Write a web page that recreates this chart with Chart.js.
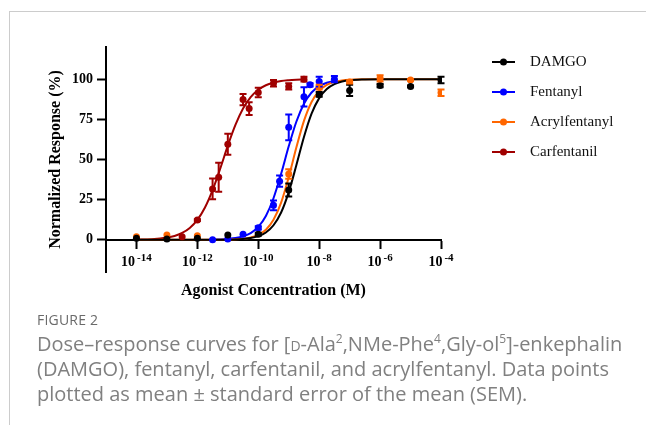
<!DOCTYPE html>
<html>
<head>
<meta charset="utf-8">
<script src="https://cdn.jsdelivr.net/npm/chart.js@4"></script>
<style>
  body { margin: 0; background: #fff; width: 646px; height: 425px; overflow: hidden; position: relative; }
  #card { position: absolute; left: 9px; top: 11px; width: 640px; height: 420px; border-top: 1px solid #ccc; border-left: 1px solid #ccc; }
  #chart { position: absolute; left: 0; top: 0; }
  #caption { position: absolute; left: 37px; top: 311px; font-family: "Open Sans", sans-serif; color: #808080; white-space: nowrap; }
  #caption .fig { font-size: 14px; line-height: 18px; color: #6a6a6a; letter-spacing: 0.2px; }
  #caption .txt { font-size: 20px; line-height: 25px; margin-top: 2px; }
  #caption sup { font-size: 12px; line-height: 0; }
  #caption .sc { font-variant: small-caps; }
</style>
</head>
<body>
<div id="card"></div>
<canvas id="chart" width="646" height="332"></canvas>
<div id="caption">
  <div class="fig">FIGURE 2</div>
  <div class="txt">Dose–response curves for [<span class="sc">d</span>-Ala<sup>2</sup>,NMe-Phe<sup>4</sup>,Gly-ol<sup>5</sup>]-enkephalin<br>(DAMGO), fentanyl, carfentanil, and acrylfentanyl. Data points<br>plotted as mean ± standard error of the mean (SEM).</div>
</div>
<script>
// --- Data (log10 molar concentration vs normalized response %) ---
const seriesNames = ['DAMGO', 'Fentanyl', 'Acrylfentanyl', 'Carfentanil'];
const seriesColors = ['#000000', '#0000ff', '#ff6600', '#a00000'];

const damgoX = [-14, -13, -12, -11, -10, -9, -8, -7, -6, -5, -4];
const damgoY = [1, 0.5, 1, 3, 3.5, 31, 90.5, 93, 96, 95.5, 99.5];
const damgoErr = [0, 0, 0, 0, 1, 4, 1.5, 3.5, 1, 0.5, 2];

const fentanylX = [-11.5, -11, -10.5, -10, -9.5, -9.3, -9, -8.5, -8.3, -8, -7.5];
const fentanylY = [0, 0.5, 3.5, 7.5, 21.5, 36.5, 70, 89, 96.5, 98.5, 100];
const fentanylErr = [0, 0, 0, 1, 3, 3.5, 8, 6, 1, 3, 2];

const acrylX = [-14, -13, -12, -9, -8, -7, -6, -5, -4];
const acrylY = [2, 3, 2.5, 41, 95, 98.3, 100.5, 99.5, 91.5];
const acrylErr = [0, 0, 0, 3, 1.5, 1, 2, 0.5, 2];

const carfX = [-12.5, -12, -11.5, -11.3, -11, -10.5, -10.3, -10, -9.5, -9, -8.5];
const carfY = [2, 12.3, 31.7, 39, 59.5, 87.3, 81.7, 91.7, 97.5, 95.5, 100];
const carfErr = [0, 0.5, 6.5, 9, 6.5, 3.5, 4, 3, 2, 2, 1.5];

// fitted curves
const carfCurveX = [-14, -13.5, -13, -12.75, -12.5, -12.25, -12, -11.75, -11.5, -11.25, -11, -10.75, -10.5, -10.25, -10, -9.75, -9.5, -9.25, -9, -8.75, -8.5];
const carfCurveY = [0.1, 0.4, 1.4, 2.4, 4.3, 7.4, 12.4, 20.1, 30.9, 44.3, 58.6, 71.5, 81.7, 88.8, 93.4, 96.2, 97.8, 98.8, 99.3, 99.6, 99.8];

const fentCurveX = [-11.5, -11.25, -11, -10.75, -10.5, -10.25, -10, -9.75, -9.5, -9.25, -9, -8.75, -8.5, -8.25, -8, -7.75, -7.5];
const fentCurveY = [0.1, 0.3, 0.6, 1.1, 2.2, 4.2, 8.1, 14.9, 25.9, 41.1, 58.2, 73.5, 84.7, 91.7, 95.7, 97.8, 98.9];

const wideCurveX = [-14, -13, -12, -11.5, -11, -10.75, -10.5, -10.25, -10, -9.75, -9.5, -9.25, -9, -8.75, -8.5, -8.25, -8, -7.75, -7.5, -7.25, -7, -6.5, -6, -5, -4];
const acrylCurveY = [0, 0, 0, 0, 0.2, 0.3, 0.7, 1.5, 3.1, 6.3, 12.5, 23.2, 39.0, 57.4, 74.0, 85.8, 92.7, 96.4, 98.3, 99.2, 99.6, 99.9, 100, 100, 100];
const damgoCurveY = [0, 0, 0, 0, 0.1, 0.3, 0.6, 1.1, 2.3, 4.6, 9.1, 17.0, 29.7, 46.4, 64.0, 78.5, 88.2, 93.9, 96.9, 98.5, 99.3, 99.8, 100, 100, 100];

const xTickValues = [-14, -12, -10, -8, -6, -4];
const xTickExponents = ['-14', '-12', '-10', '-8', '-6', '-4'];
const yTickValues = [0, 25, 50, 75, 100];

const serif = '"Liberation Serif", "Times New Roman", serif';

const toPoints = (xs, ys) => xs.map((x, i) => ({ x: x, y: ys[i] }));

function pointSet(name, color, xs, ys, errs) {
    return {
        label: name,
        data: toPoints(xs, ys),
        errors: errs,
        showLine: false,
        pointRadius: 3.5,
        pointBorderWidth: 0,
        pointBackgroundColor: color,
        backgroundColor: color
    };
}

function curveSet(name, color, xs, ys) {
    return {
        label: name + ' fit',
        data: toPoints(xs, ys),
        showLine: true,
        borderColor: color,
        borderWidth: 2,
        pointRadius: 0,
        cubicInterpolationMode: 'monotone'
    };
}

// --- Error bars ---
const errorBars = {
    id: 'errorBars',
    afterDatasetsDraw(chart) {
        const { ctx, scales: { x, y } } = chart;
        ctx.save();
        ctx.lineWidth = 2;
        chart.data.datasets.forEach(ds => {
            if (!ds.errors) return;
            ctx.strokeStyle = ds.pointBackgroundColor;
            ds.data.forEach((p, j) => {
                const e = ds.errors[j];
                if (!e) return;
                const px = x.getPixelForValue(p.x);
                const top = y.getPixelForValue(p.y + e);
                const bot = y.getPixelForValue(p.y - e);
                ctx.beginPath();
                ctx.moveTo(px, top); ctx.lineTo(px, bot);
                ctx.moveTo(px - 3.5, top); ctx.lineTo(px + 3.5, top);
                ctx.moveTo(px - 3.5, bot); ctx.lineTo(px + 3.5, bot);
                ctx.stroke();
            });
        });
        ctx.restore();
    }
};

// --- x tick labels as 10 with superscript exponent ---
const powerLabels = {
    id: 'powerLabels',
    afterDraw(chart) {
        const { ctx, scales: { x, y } } = chart;
        const base = y.getPixelForValue(0) + 26;
        ctx.save();
        ctx.fillStyle = '#000';
        ctx.textBaseline = 'alphabetic';
        ctx.textAlign = 'left';
        xTickValues.forEach((v, i) => {
            const px = x.getPixelForValue(v);
            ctx.font = 'bold 14px ' + serif;
            const w1 = ctx.measureText('10').width;
            ctx.font = 'bold 11px ' + serif;
            const w2 = ctx.measureText(xTickExponents[i]).width;
            const left = px - (w1 + 2 + w2) / 2;
            ctx.font = 'bold 14px ' + serif;
            ctx.fillText('10', left, base);
            ctx.font = 'bold 11px ' + serif;
            ctx.fillText(xTickExponents[i], left + w1 + 2, base - 5);
        });
        ctx.restore();
    }
};

// --- Legend (line with dot) ---
const sideLegend = {
    id: 'sideLegend',
    afterDraw(chart) {
        const { ctx } = chart;
        ctx.save();
        seriesNames.forEach((name, i) => {
            const yy = 62 + i * 30;
            ctx.strokeStyle = seriesColors[i];
            ctx.fillStyle = seriesColors[i];
            ctx.lineWidth = 2;
            ctx.beginPath();
            ctx.moveTo(492, yy); ctx.lineTo(515, yy);
            ctx.stroke();
            ctx.beginPath();
            ctx.arc(503.5, yy, 3.5, 0, Math.PI * 2);
            ctx.fill();
            ctx.fillStyle = '#111';
            ctx.font = '15px ' + serif;
            ctx.textBaseline = 'middle';
            ctx.fillText(name, 530, yy);
        });
        ctx.restore();
    }
};

document.addEventListener('DOMContentLoaded', () => {
    const datasets = [
        pointSet('DAMGO', seriesColors[0], damgoX, damgoY, damgoErr),
        pointSet('Fentanyl', seriesColors[1], fentanylX, fentanylY, fentanylErr),
        pointSet('Acrylfentanyl', seriesColors[2], acrylX, acrylY, acrylErr),
        pointSet('Carfentanil', seriesColors[3], carfX, carfY, carfErr),
        curveSet('DAMGO', seriesColors[0], wideCurveX, damgoCurveY),
        curveSet('Acrylfentanyl', seriesColors[2], wideCurveX, acrylCurveY),
        curveSet('Fentanyl', seriesColors[1], fentCurveX, fentCurveY),
        curveSet('Carfentanil', seriesColors[3], carfCurveX, carfCurveY)
    ];

    new Chart(document.getElementById('chart'), {
        type: 'scatter',
        data: { datasets: datasets },
        options: {
            responsive: false,
            animation: false,
            layout: { padding: { top: 47, left: 0, right: 205, bottom: 60 } },
            plugins: { legend: { display: false }, tooltip: { enabled: false } },
            scales: {
                x: {
                    type: 'linear',
                    min: -15,
                    max: -4,
                    position: { y: 0 },
                    afterBuildTicks: s => { s.ticks = xTickValues.map(v => ({ value: v })); },
                    afterFit: s => { s.height = 61; },
                    ticks: { display: false },
                    grid: { drawOnChartArea: false, drawTicks: true, tickLength: 8, tickWidth: 2, tickColor: '#000' },
                    border: { display: true, color: '#000', width: 2 },
                    title: {
                        display: true,
                        text: 'Agonist Concentration (M)',
                        color: '#000',
                        font: { family: serif, size: 16, weight: 'bold' },
                        padding: { top: 0, bottom: 0 }
                    }
                },
                y: {
                    type: 'linear',
                    min: -20,
                    max: 120,
                    afterBuildTicks: s => { s.ticks = yTickValues.map(v => ({ value: v })); },
                    afterFit: s => { s.width = 106; },
                    ticks: { color: '#000', font: { family: serif, size: 14, weight: 'bold' }, padding: 4 },
                    grid: { drawOnChartArea: false, drawTicks: true, tickLength: 9, tickWidth: 2, tickColor: '#000' },
                    border: { display: true, color: '#000', width: 2 },
                    title: {
                        display: true,
                        text: 'Normalized Response (%)',
                        color: '#000',
                        font: { family: serif, size: 16, weight: 'bold' },
                        padding: { top: 46, bottom: 0 }
                    }
                }
            }
        },
        plugins: [errorBars, powerLabels, sideLegend]
    });
});
</script>
</body>
</html>
